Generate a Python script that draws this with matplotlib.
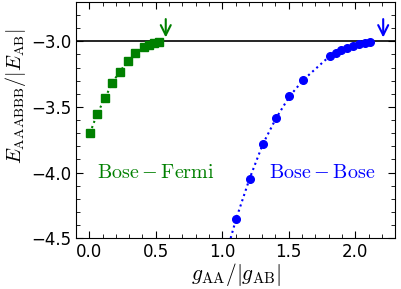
import matplotlib
matplotlib.use("Agg")
import matplotlib.pyplot as plt
from matplotlib.ticker import MultipleLocator

plt.rcParams['mathtext.fontset'] = 'cm'

# Bose-Fermi (green squares)
bf_x = [0.005, 0.06, 0.12, 0.17, 0.23, 0.29, 0.345, 0.41, 0.45, 0.49, 0.525]
bf_y = [-3.70, -3.55, -3.43, -3.32, -3.23, -3.15, -3.09, -3.04, -3.025, -3.013, -3.005]

# Bose-Bose (blue circles)
bb_x = [1.105, 1.205, 1.305, 1.405, 1.505, 1.608, 1.808, 1.853, 1.895, 1.94, 1.983, 2.03, 2.07, 2.11]
bb_y = [-4.351, -4.047, -3.783, -3.585, -3.42, -3.295, -3.112, -3.086, -3.063, -3.048, -3.033, -3.02, -3.013, -3.008]

# dotted guide for Bose-Bose continues below the axis
bb_line_x = [1.063] + bb_x
bb_line_y = [-4.5] + bb_y

arrow_x = [0.575, 2.21]
arrow_col = ['green', 'blue']

fig = plt.figure(figsize=(4.02, 2.89), dpi=100)
ax = fig.add_axes([0.189, 0.176, 0.794, 0.817])

ax.axhline(-3.0, color='black', lw=1.2)
ax.plot(bf_x, bf_y, ':', color='green', lw=1.5)
ax.plot(bf_x, bf_y, 's', color='green', ms=5.5)
ax.plot(bb_line_x, bb_line_y, ':', color='blue', lw=1.5)
ax.plot(bb_x, bb_y, 'o', color='blue', ms=5.5)

for xa, c in zip(arrow_x, arrow_col):
    ax.annotate('', xy=(xa, -2.97), xytext=(xa, -2.83),
                arrowprops=dict(arrowstyle='->', color=c, lw=1.5, mutation_scale=18,
                                shrinkA=0, shrinkB=0))

ax.text(0.5, -4.0, r'$\mathrm{Bose-Fermi}$', color='green', fontsize=14.5,
        ha='center', va='center')
ax.text(1.75, -4.0, r'$\mathrm{Bose-Bose}$', color='blue', fontsize=14.5,
        ha='center', va='center')

ax.set_xlim(-0.1, 2.3)
ax.set_ylim(-4.5, -2.7)
ax.xaxis.set_major_locator(MultipleLocator(0.5))
ax.xaxis.set_minor_locator(MultipleLocator(0.1))
ax.yaxis.set_major_locator(MultipleLocator(0.5))
ax.yaxis.set_minor_locator(MultipleLocator(0.1))
ax.tick_params(which='both', direction='in', top=True, right=True, labelsize=12)
ax.tick_params(which='major', length=5)
ax.tick_params(which='minor', length=3)

ax.set_xlabel(r'$g_{\mathrm{AA}}/|g_{\mathrm{AB}}|$', fontsize=15.5, labelpad=0)
ax.set_ylabel(r'$E_{\mathrm{AAABBB}}/|E_{\mathrm{AB}}|$', fontsize=14.5)
ax.yaxis.set_label_coords(-0.15, 0.6)

fig.savefig('out.png', dpi=100)
